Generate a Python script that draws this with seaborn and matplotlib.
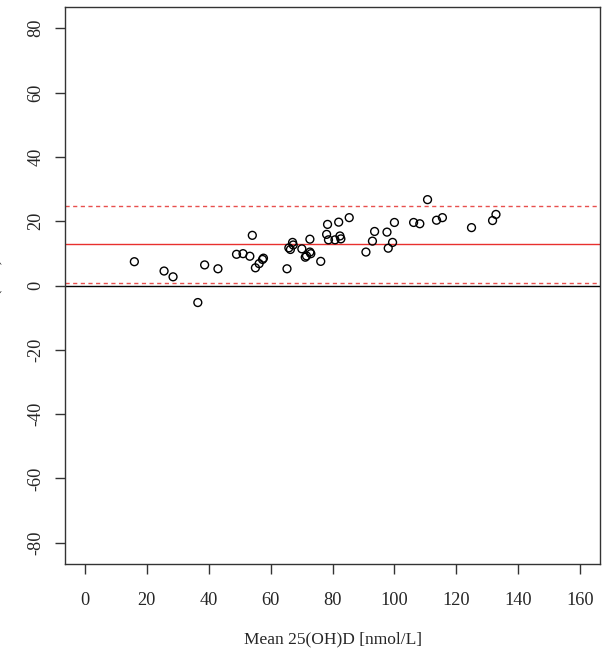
import numpy as np
import pandas as pd
import seaborn as sns
import matplotlib
matplotlib.use("Agg")
import matplotlib.pyplot as plt

# mean of the two methods and their difference
mean_vals = [16.0, 25.6, 28.5, 36.5, 38.7, 43.0, 49.0, 51.1, 53.3, 54.1,
             55.1, 56.3, 57.4, 57.7, 65.3, 65.9, 66.4, 67.1, 67.3, 70.1,
             71.2, 71.6, 72.7, 73.0, 72.7, 76.2, 78.1, 78.4, 78.7, 80.8,
             82.0, 82.4, 82.7, 85.4, 90.8, 92.9, 93.6, 97.6, 98.0, 99.4,
             100.0, 106.2, 108.2, 110.7, 113.6, 115.5, 124.9, 131.7, 132.8]
diff_vals = [7.4, 4.5, 2.7, -5.3, 6.4, 5.2, 9.7, 9.9, 9.1, 15.6,
             5.5, 6.8, 8.1, 8.5, 5.2, 11.7, 11.2, 13.4, 12.6, 11.4,
             8.8, 9.2, 10.4, 9.9, 14.4, 7.5, 15.9, 19.0, 14.2, 14.2,
             19.7, 15.4, 14.5, 21.1, 10.4, 13.8, 16.8, 16.6, 11.6, 13.4,
             19.6, 19.6, 19.2, 26.7, 20.3, 21.1, 18.0, 20.2, 22.1]

bias = 12.8
loa_upper = 24.7
loa_lower = 0.9

x_ticks = [0, 20, 40, 60, 80, 100, 120, 140, 160]
y_ticks = [-80, -60, -40, -20, 0, 20, 40, 60, 80]

df = pd.DataFrame({"mean": mean_vals, "diff": diff_vals})

sns.set_style("white")
plt.rcParams["font.family"] = ["Liberation Serif", "DejaVu Serif"]
plt.rcParams["font.size"] = 12.5
plt.rcParams["axes.unicode_minus"] = False

fig = plt.figure(figsize=(6.08, 6.54), dpi=100)
ax = fig.add_axes([65 / 608, 1 - 564 / 654, 535 / 608, 557 / 654])

sns.scatterplot(data=df, x="mean", y="diff", ax=ax, marker="o", s=32,
                facecolors="none", edgecolor="black", linewidth=1.0, zorder=3)

ax.axhline(0, color="black", lw=1.0, zorder=1)
ax.axhline(bias, color="#e8302e", lw=1.0, zorder=2)
ax.axhline(loa_upper, color="#e8504e", lw=1.0, ls=(0, (3, 2.5)), zorder=2)
ax.axhline(loa_lower, color="#e8504e", lw=1.0, ls=(0, (3, 2.5)), zorder=2)

ax.set_xlim(-6.4, 166.4)
ax.set_ylim(-86.6, 86.6)
ax.set_xticks(x_ticks)
ax.set_yticks(y_ticks)
ax.set_yticklabels([str(v) for v in y_ticks], rotation=90, va="center")

for sp in ax.spines.values():
    sp.set_color("#333333")
    sp.set_linewidth(1.0)

ax.tick_params(axis="both", direction="out", length=7, width=1.0,
               color="#333333", labelsize=13.2, bottom=True, left=True)
ax.tick_params(axis="x", pad=13.5)
ax.tick_params(axis="y", pad=8)

ax.set_xlabel("Mean 25(OH)D [nmol/L]", fontsize=12.5, labelpad=15.5)
ax.set_ylabel("")
fig.text(-0.009, 0.565, "Difference 25(OH)D [nmol/L]", rotation=90,
         ha="center", va="center", fontsize=12.5)

fig.savefig("out.png", dpi=100)
